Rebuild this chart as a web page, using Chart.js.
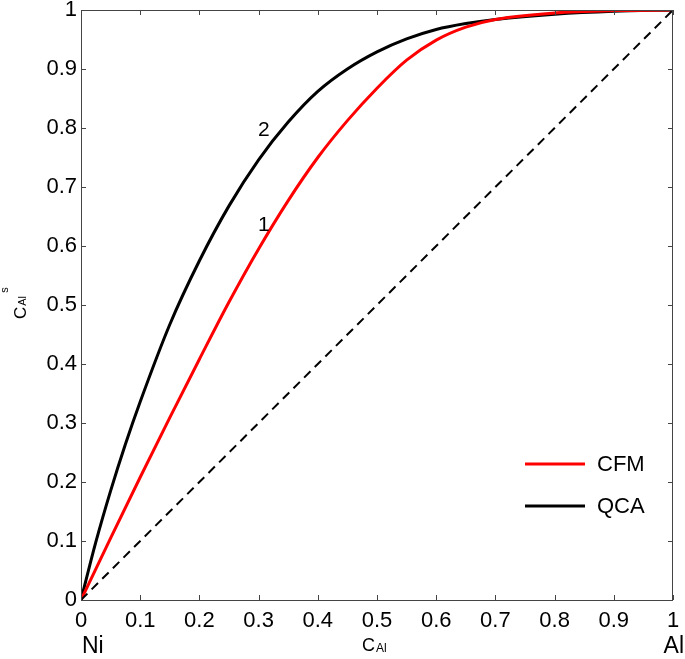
<!DOCTYPE html>
<html>
<head>
<meta charset="utf-8">
<script src="https://cdn.jsdelivr.net/npm/chart.js@4"></script>
<style>
  html, body { margin: 0; padding: 0; background: #fff; }
  #wrap { width: 685px; height: 659px; position: relative; }
</style>
</head>
<body>
<div id="wrap"><canvas id="c" width="685" height="659"></canvas></div>
<script>
// ---- data ----
const seriesNames = ['CFM', 'QCA'];
const seriesColors = ['#ff0000', '#000000'];
const cfmX = [0, 0.05, 0.1, 0.15, 0.2, 0.25, 0.3, 0.35, 0.4, 0.45, 0.5, 0.55, 0.6, 0.65, 0.7, 0.8, 0.9, 1];
const cfmY = [0, 0.105, 0.208, 0.309, 0.408, 0.505, 0.595, 0.677, 0.75, 0.8125, 0.8675, 0.915, 0.949, 0.971, 0.984, 0.995, 0.999, 1];
const qcaX = [0, 0.025, 0.05, 0.075, 0.1, 0.15, 0.2, 0.25, 0.3, 0.35, 0.4, 0.45, 0.5, 0.55, 0.6, 0.65, 0.7, 0.8, 0.9, 1];
const qcaY = [0, 0.098, 0.185, 0.264, 0.336, 0.467, 0.575, 0.668, 0.746, 0.81, 0.862, 0.9, 0.929, 0.951, 0.967, 0.977, 0.984, 0.993, 0.998, 1];
const diagX = [0, 1];
const diagY = [0, 1];
const tickValues = [0, 0.1, 0.2, 0.3, 0.4, 0.5, 0.6, 0.7, 0.8, 0.9, 1];
const curveLabels = ['1', '2'];
const curveLabelX = [0.309, 0.309];
const curveLabelY = [0.636, 0.797];
const endLabels = ['Ni', 'Al'];

const FONT = '"Liberation Sans", Arial, sans-serif';
const toPts = (xs, ys) => xs.map((x, i) => ({ x: x, y: ys[i] }));

const inwardTicks = {
  id: 'inwardTicks',
  afterDraw(chart) {
    const ctx = chart.ctx, a = chart.chartArea;
    const xs = chart.scales.x, ys = chart.scales.y;
    ctx.save();
    ctx.strokeStyle = '#444';
    ctx.lineWidth = 1;
    ctx.strokeRect(Math.round(a.left) + 0.5, Math.round(a.top) + 0.5,
                   Math.round(a.right - a.left) - 1, Math.round(a.bottom - a.top));
    ctx.beginPath();
    const L = 5;
    tickValues.forEach(v => {
      const px = Math.round(xs.getPixelForValue(v)) + 0.5;
      ctx.moveTo(px, a.bottom); ctx.lineTo(px, a.bottom - L);
      ctx.moveTo(px, a.top); ctx.lineTo(px, a.top + L);
      const py = Math.round(ys.getPixelForValue(v)) + 0.5;
      ctx.moveTo(a.left, py); ctx.lineTo(a.left + L, py);
      ctx.moveTo(a.right, py); ctx.lineTo(a.right - L, py);
    });
    ctx.stroke();

    // curve labels
    ctx.fillStyle = '#000';
    ctx.font = '21px ' + FONT;
    ctx.textAlign = 'center';
    ctx.textBaseline = 'middle';
    curveLabels.forEach((t, i) => {
      ctx.fillText(t, xs.getPixelForValue(curveLabelX[i]), ys.getPixelForValue(curveLabelY[i]));
    });

    // legend
    const legY = [464, 506];
    seriesNames.forEach((n, i) => {
      ctx.strokeStyle = seriesColors[i];
      ctx.lineWidth = 3;
      ctx.beginPath();
      ctx.moveTo(525, legY[i]); ctx.lineTo(585, legY[i]);
      ctx.stroke();
      ctx.fillStyle = '#000';
      ctx.font = '22px ' + FONT;
      ctx.textAlign = 'left';
      ctx.textBaseline = 'middle';
      ctx.fillText(n, 597, legY[i] + 1);
    });

    // end labels
    ctx.font = '23px ' + FONT;
    ctx.textBaseline = 'alphabetic';
    ctx.textAlign = 'left';
    ctx.fillText(endLabels[0], 82, 653);
    ctx.textAlign = 'right';
    ctx.fillText(endLabels[1], 684, 653);

    // x axis title C_Al
    ctx.textAlign = 'left';
    ctx.font = '18px ' + FONT;
    ctx.fillText('C', 362, 651);
    const cw = ctx.measureText('C').width;
    ctx.font = '12px ' + FONT;
    ctx.fillText('Al', 362 + cw + 1, 652);

    // y axis title C_Al^s (rotated)
    ctx.save();
    ctx.translate(26, 319);
    ctx.rotate(-Math.PI / 2);
    ctx.font = '17px ' + FONT;
    ctx.fillText('C', 0, 0);
    const cw2 = ctx.measureText('C').width;
    ctx.font = '11px ' + FONT;
    ctx.fillText('Al', cw2 + 1, 0);
    ctx.fillText('s', cw2 + 14, -18);
    ctx.restore();
    ctx.restore();
  }
};

const fmt = v => String(Number(v.toFixed(1)));

new Chart(document.getElementById('c'), {
  type: 'scatter',
  data: {
    datasets: [
      { label: 'diag', data: toPts(diagX, diagY), showLine: true, borderColor: '#000',
        borderWidth: 2, borderDash: [9, 6], pointRadius: 0, fill: false },
      { label: seriesNames[0], data: toPts(cfmX, cfmY), showLine: true, borderColor: seriesColors[0],
        borderWidth: 3, pointRadius: 0, cubicInterpolationMode: 'monotone', fill: false },
      { label: seriesNames[1], data: toPts(qcaX, qcaY), showLine: true, borderColor: seriesColors[1],
        borderWidth: 3, pointRadius: 0, cubicInterpolationMode: 'monotone', fill: false }
    ]
  },
  options: {
    responsive: false,
    animation: false,
    devicePixelRatio: 1,
    layout: { padding: { top: 10, right: 12, left: 0, bottom: 0 } },
    plugins: { legend: { display: false }, tooltip: { enabled: false } },
    scales: {
      x: {
        type: 'linear', min: 0, max: 1,
        afterBuildTicks: s => { s.ticks = tickValues.map(v => ({ value: v })); },
        ticks: { callback: fmt, font: { family: FONT, size: 22 }, color: '#000', padding: 8, maxRotation: 0, autoSkip: false },
        grid: { display: false, drawTicks: false },
        border: { display: false },
        afterFit: s => { s.height = 59; s.paddingLeft = 0; s.paddingRight = 0; }
      },
      y: {
        type: 'linear', min: 0, max: 1,
        afterBuildTicks: s => { s.ticks = tickValues.map(v => ({ value: v })); },
        ticks: { callback: fmt, font: { family: FONT, size: 22 }, color: '#000', padding: 4, autoSkip: false },
        grid: { display: false, drawTicks: false },
        border: { display: false },
        afterFit: s => { s.width = 81; s.paddingTop = 0; s.paddingBottom = 0; }
      }
    }
  },
  plugins: [inwardTicks]
});
</script>
</body>
</html>
